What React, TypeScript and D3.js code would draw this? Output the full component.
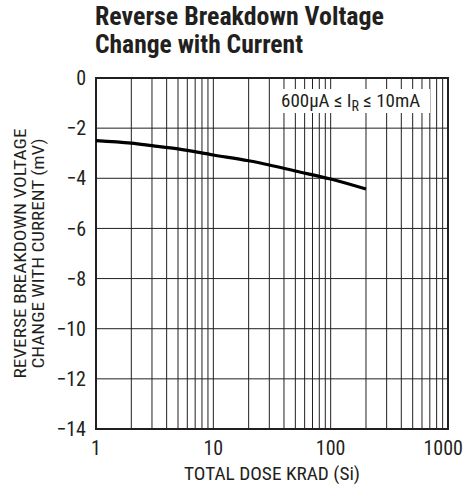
import React from "react";
import * as d3 from "d3";

// data
const doses = [1, 2, 3, 5, 10, 20, 30, 50, 100, 200];
const deltaV = [-2.5, -2.6, -2.7, -2.83, -3.07, -3.3, -3.47, -3.71, -4.03, -4.43];
const yTicks = [0, -2, -4, -6, -8, -10, -12, -14];
const xTicks = [1, 10, 100, 1000];

const W = 464;
const H = 485;
const margin = { top: 78, right: 16, bottom: 56, left: 96 };
const FONT = "'Liberation Sans Narrow', 'Arial Narrow', 'Roboto Condensed', sans-serif";
const INK = "#231f20";

export default function App() {
  const x = d3.scaleLog().domain([1, 1000]).range([margin.left, W - margin.right]);
  const y = d3.scaleLinear().domain([-14, 0]).range([H - margin.bottom, margin.top]);

  // minor grid: 2..9 in every decade
  const minor: number[] = [];
  for (let d = 1; d < 1000; d *= 10) {
    for (let k = 2; k <= 9; k++) minor.push(d * k);
  }
  const line = d3
    .line<number>()
    .x((_, i) => x(doses[i]))
    .y((v) => y(v))
    .curve(d3.curveMonotoneX);

  const [x0, x1] = x.range();
  const [y0, y1] = y.range();
  const yMid = (y0 + y1) / 2;

  return (
    <svg width={W} height={H} style={{ position: "absolute", left: 0, top: 0, background: "#fff" }}>
      <g fontFamily={FONT} fill={INK} fontWeight="bold" fontSize={25.5}>
        <text x={95} y={25} textLength={289} lengthAdjust="spacingAndGlyphs">
          Reverse Breakdown Voltage
        </text>
        <text x={95} y={53} textLength={208} lengthAdjust="spacingAndGlyphs">
          Change with Current
        </text>
      </g>

      {/* grid */}
      <g stroke={INK} strokeWidth={1}>
        {minor.concat([10, 100]).map((v) => (
          <line key={"v" + v} x1={x(v)} x2={x(v)} y1={y1} y2={y0} />
        ))}
        {yTicks.map((v) => (
          <line key={"h" + v} x1={x0} x2={x1} y1={y(v)} y2={y(v)} />
        ))}
      </g>

      {/* annotation box masks grid */}
      <rect x={278} y={89} width={152} height={24} fill="#fff" />
      <text x={281} y={107} fontFamily={FONT} fontSize={19} fill={INK}>
        600µA ≤ I<tspan fontSize={14} dy={4}>R</tspan>
        <tspan dy={-4}> ≤ 10mA</tspan>
      </text>

      <rect x={x0} y={y1} width={x1 - x0} height={y0 - y1} fill="none" stroke={INK} strokeWidth={2} />

      <path d={line(deltaV) || ""} fill="none" stroke="#000" strokeWidth={3.2} />

      {/* tick labels */}
      <g fontFamily={FONT} fontSize={20} fill={INK}>
        {yTicks.map((v) => (
          <text key={"yt" + v} x={86} y={y(v)} dy="0.36em" textAnchor="end">
            {v === 0 ? "0" : "\u2212" + Math.abs(v)}
          </text>
        ))}
        {xTicks.map((v, i) => (
          <text
            key={"xt" + v}
            x={i === xTicks.length - 1 ? W - 1 : x(v)}
            y={455}
            textAnchor={i === xTicks.length - 1 ? "end" : "middle"}
          >
            {d3.format("d")(v)}
          </text>
        ))}
        <text x={272} y={480} fontSize={19} textAnchor="middle" textLength={176} lengthAdjust="spacingAndGlyphs">
          TOTAL DOSE KRAD (Si)
        </text>
        <text
          transform={`translate(26,${yMid}) rotate(-90)`}
          textAnchor="middle"
          fontSize={17}
          textLength={250}
          lengthAdjust="spacingAndGlyphs"
        >
          REVERSE BREAKDOWN VOLTAGE
        </text>
        <text
          transform={`translate(44,${yMid}) rotate(-90)`}
          textAnchor="middle"
          fontSize={17}
          textLength={230}
          lengthAdjust="spacingAndGlyphs"
        >
          CHANGE WITH CURRENT (mV)
        </text>
      </g>
    </svg>
  );
}
